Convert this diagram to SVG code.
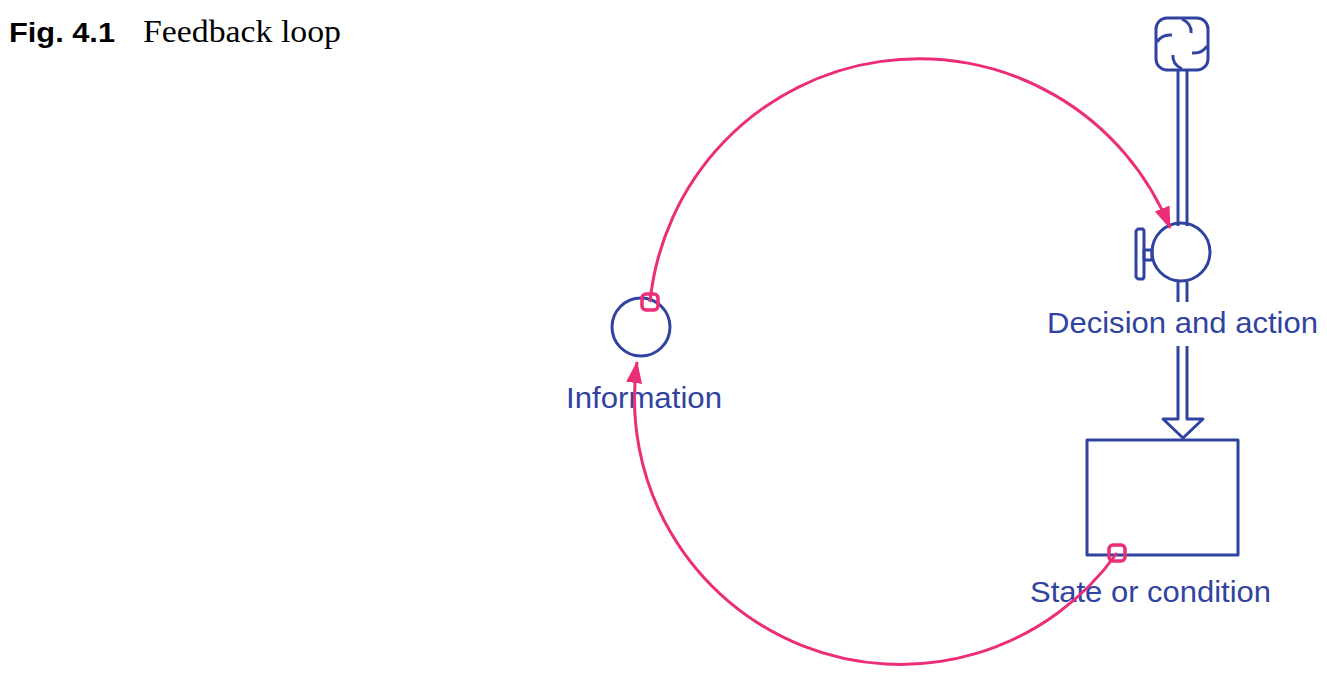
<svg xmlns="http://www.w3.org/2000/svg" width="1327" height="684" viewBox="0 0 1327 684">
<style>
.b{fill:none;stroke:#3143A0;stroke-width:3;stroke-linejoin:round}
.p{fill:none;stroke:#EC2D78;stroke-width:3}
.sq{fill:none;stroke:#EC2D78;stroke-width:3.5}
.lbl{font-family:"Liberation Sans",Arial,sans-serif;font-size:29px;fill:#3143A0}
</style>
<defs>
<marker id="ah" viewBox="0 0 22 16" refX="21" refY="8" markerWidth="22" markerHeight="16" markerUnits="userSpaceOnUse" orient="auto">
<path d="M0,0 L22,8 L0,16 Z" fill="#EC2D78"/>
</marker>
</defs>
<rect width="1327" height="684" fill="#fff"/>
<g id="title">
<text x="9" y="42" font-family="'Liberation Sans',Arial,sans-serif" font-weight="bold" font-size="28" textLength="106" lengthAdjust="spacingAndGlyphs">Fig. 4.1</text>
<text x="143" y="42" font-family="'Liberation Serif','Times New Roman',serif" font-size="31" textLength="198" lengthAdjust="spacingAndGlyphs">Feedback loop</text>
</g>
<g id="cloud">
<rect class="b" x="1156" y="18" width="52" height="52" rx="11"/>
<path class="b" d="M1182,19 Q1192,24 1191,33 M1207,46 Q1202,54 1192,53 M1182,69 Q1172,64 1173,55 M1157,42 Q1162,34 1172,35"/>
</g>
<g id="decision">
<line class="b" x1="1178" y1="70" x2="1178" y2="226"/>
<line class="b" x1="1187" y1="70" x2="1187" y2="226"/>
<circle class="b" cx="1181" cy="252" r="29"/>
<path class="b" d="M1138,229 L1143,229 L1144,231 L1144,277 L1143,279 L1138,279 L1136,277 L1136,231 Z"/>
<rect class="b" x="1144" y="250" width="8" height="10"/>
<line class="b" x1="1178" y1="282" x2="1178" y2="302"/>
<line class="b" x1="1187" y1="282" x2="1187" y2="302"/>
<text class="lbl" x="1182.5" y="333" text-anchor="middle" textLength="271" lengthAdjust="spacingAndGlyphs">Decision and action</text>
<path class="b" d="M1178,346 L1178,419 L1163,419 L1183,438 L1203,419 L1187,419 L1187,346"/>
</g>
<g id="stock">
<rect class="b" x="1087" y="440" width="151" height="115"/>
<text class="lbl" x="1150.5" y="602" text-anchor="middle" textLength="241" lengthAdjust="spacingAndGlyphs">State or condition</text>
</g>
<g id="information">
<circle class="b" cx="641" cy="327" r="29"/>
<text class="lbl" x="644" y="408" text-anchor="middle" textLength="156" lengthAdjust="spacingAndGlyphs">Information</text>
</g>
<g id="connectors">
<path class="p" d="M650,302 A270.5,270.5 0 0 1 1170,228" marker-end="url(#ah)"/>
<rect class="sq" x="642" y="294" width="16" height="16" rx="4"/>
<path class="p" d="M1117,553 A266,266 0 0 1 637,362" marker-end="url(#ah)"/>
<rect class="sq" x="1109" y="545" width="16" height="16" rx="4"/>
</g>
</svg>
